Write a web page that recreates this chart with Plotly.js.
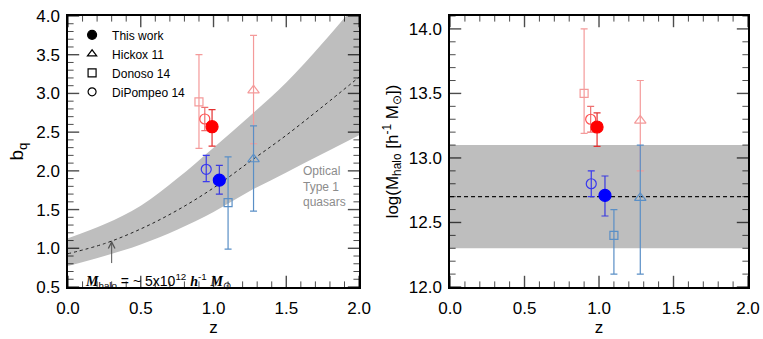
<!DOCTYPE html>
<html>
<head>
<meta charset="utf-8">
<script src="https://cdn.plot.ly/plotly-3.0.1.min.js"></script>
<style>
  body { margin: 0; background: #fff; }
  #graph { width: 763px; height: 339px; }
</style>
</head>
<body>
<div id="graph"></div>
<script>
//----------------- datos -----------------
// panel izquierdo: bias b_q vs z
const bandaZ     = [0, 0.25, 0.5, 0.75, 1.0, 1.25, 1.5, 1.75, 2.0];
const bandaMedia = [0.93, 1.06, 1.25, 1.49, 1.78, 2.12, 2.46, 2.83, 3.21];
const bandaAlta  = [1.13, 1.31, 1.55, 1.90, 2.30, 2.71, 3.14, 3.65, 4.20];
const bandaBaja  = [0.77, 0.90, 1.05, 1.24, 1.47, 1.74, 1.98, 2.22, 2.46];

// cada estudio: [rojo, azul]
const estudioZ = {
  thisWork: [0.99, 1.04],
  hickox:   [1.275, 1.275],
  donoso:   [0.90, 1.10],
  dipompeo: [0.94, 0.95]
};
const estudioZ2 = {
  thisWork: [0.987, 1.04],
  hickox:   [1.277, 1.277],
  donoso:   [0.90, 1.10],
  dipompeo: [0.944, 0.948]
};

const biasThisWork = [2.57, 1.88], biasThisWorkUp = [0.22, 0.19], biasThisWorkDn = [0.25, 0.18];
const biasHickox   = [3.04, 2.15], biasHickoxUp   = [0.71, 0.43], biasHickoxDn   = [0.69, 0.67];
const biasDonoso   = [2.89, 1.59], biasDonosoUp   = [0.61, 0.59], biasDonosoDn   = [0.60, 0.60];
const biasDiPompeo = [2.67, 2.02], biasDiPompeoUp = [0.15, 0.18], biasDiPompeoDn = [0.15, 0.16];

// panel derecho: log(M_halo) vs z
const masaThisWork = [13.24, 12.71], masaThisWorkUp = [0.11, 0.15], masaThisWorkDn = [0.15, 0.16];
const masaHickox   = [13.29, 12.69], masaHickoxUp   = [0.31, 0.41], masaHickoxDn   = [0.39, 0.59];
const masaDonoso   = [13.50, 12.40], masaDonosoUp   = [0.50, 0.20], masaDonosoDn   = [0.31, 0.30];
const masaDiPompeo = [13.30, 12.80], masaDiPompeoUp = [0.10, 0.10], masaDiPompeoDn = [0.10, 0.10];

const rangoZ = [0, 2];
const rangoBias = [0.5, 4.0];
const rangoMasa = [12.0, 14.1];
const masaBanda = [12.3, 13.1];
const masaMedia = 12.7;

const etiquetasLeyenda = ['This work', 'Hickox 11', 'Donoso 14', 'DiPompeo 14'];

//----------------- colores y simbolos -----------------
const estilo = {
  thisWork: {simbolo: 'circle',        tam: 12, color: ['#ff0000', '#0000ff'], barra: ['#e43030', '#3a3ae0']},
  hickox:   {simbolo: 'triangle-up-open', tam: 10, color: ['#f49a9a', '#5a8fc6'], barra: ['#f49a9a', '#5a8fc6']},
  donoso:   {simbolo: 'square-open',   tam: 8,  color: ['#f49a9a', '#5a8fc6'], barra: ['#f49a9a', '#5a8fc6']},
  dipompeo: {simbolo: 'circle-open',   tam: 10, color: ['#ff5050', '#3a3aee'], barra: ['#ee7070', '#3a3aee']}
};

function puntos(clave, zs, ys, up, dn, i, ejeX, ejeY){
  return {
    type: 'scatter',
    mode: 'markers',
    x: [zs[i]],
    y: [ys[i]],
    xaxis: ejeX,
    yaxis: ejeY,
    showlegend: false,
    marker: {symbol: estilo[clave].simbolo, size: estilo[clave].tam, color: estilo[clave].color[i],
             line: {width: 1.2, color: estilo[clave].color[i]}},
    error_y: {type: 'data', symmetric: false, array: [up[i]], arrayminus: [dn[i]],
              color: estilo[clave].barra[i], thickness: 1.2, width: 3.5}
  };
}

let data = [];

// banda gris izquierda
data.push({x: bandaZ, y: bandaBaja, mode: 'lines', line: {width: 0, color: '#bebebe', shape: 'spline'},
           xaxis: 'x', yaxis: 'y', showlegend: false, hoverinfo: 'skip'});
data.push({x: bandaZ, y: bandaAlta, mode: 'lines', line: {width: 0, color: '#bebebe', shape: 'spline'}, fill: 'tonexty',
           fillcolor: '#bebebe', xaxis: 'x', yaxis: 'y', showlegend: false, hoverinfo: 'skip'});
data.push({x: bandaZ, y: bandaMedia, mode: 'lines', line: {width: 1, color: '#222', dash: '3px,3px', shape: 'spline'},
           xaxis: 'x', yaxis: 'y', showlegend: false});

// banda gris derecha
data.push({x: rangoZ, y: [masaBanda[0], masaBanda[0]], mode: 'lines', line: {width: 0, color: '#bebebe'},
           xaxis: 'x2', yaxis: 'y2', showlegend: false, hoverinfo: 'skip'});
data.push({x: rangoZ, y: [masaBanda[1], masaBanda[1]], mode: 'lines', line: {width: 0, color: '#bebebe'}, fill: 'tonexty',
           fillcolor: '#bebebe', xaxis: 'x2', yaxis: 'y2', showlegend: false, hoverinfo: 'skip'});
data.push({x: rangoZ, y: [masaMedia, masaMedia], mode: 'lines', line: {width: 1.2, color: '#111', dash: '4px,3px'},
           xaxis: 'x2', yaxis: 'y2', showlegend: false});

const orden = ['donoso', 'hickox', 'dipompeo', 'thisWork'];
const bias = {
  thisWork: [biasThisWork, biasThisWorkUp, biasThisWorkDn],
  hickox:   [biasHickox, biasHickoxUp, biasHickoxDn],
  donoso:   [biasDonoso, biasDonosoUp, biasDonosoDn],
  dipompeo: [biasDiPompeo, biasDiPompeoUp, biasDiPompeoDn]
};
const masa = {
  thisWork: [masaThisWork, masaThisWorkUp, masaThisWorkDn],
  hickox:   [masaHickox, masaHickoxUp, masaHickoxDn],
  donoso:   [masaDonoso, masaDonosoUp, masaDonosoDn],
  dipompeo: [masaDiPompeo, masaDiPompeoUp, masaDiPompeoDn]
};

orden.forEach(clave => {
  for (let i = 0; i < 2; i++) {
    data.push(puntos(clave, estudioZ[clave], bias[clave][0], bias[clave][1], bias[clave][2], i, 'x', 'y'));
    data.push(puntos(clave, estudioZ2[clave], masa[clave][0], masa[clave][1], masa[clave][2], i, 'x2', 'y2'));
  }
});

// entradas de la leyenda (simbolos negros)
['thisWork', 'hickox', 'donoso', 'dipompeo'].forEach((clave, k) => {
  data.push({
    type: 'scatter', mode: 'markers', x: [null], y: [null], xaxis: 'x', yaxis: 'y',
    name: etiquetasLeyenda[k],
    marker: {symbol: estilo[clave].simbolo, size: clave === 'thisWork' ? 9 : 8, color: '#000',
             line: {width: 1.2, color: '#000'}}
  });
});

//----------------- marcas de los ejes (hacia dentro, en los 4 lados) -----------------
// se dibujan como marcadores de linea sobre el borde; la mitad exterior queda recortada
function marcasEjes(ejeX, ejeY, rX, rY){
  let tx = [], ty = [], tTam = [], tAncho = [];
  for (let k = Math.round(rX[0] * 10); k <= Math.round(rX[1] * 10); k++) {
    let mayor = k % 5 === 0;
    [rY[0], rY[1]].forEach(borde => {
      tx.push(k / 10); ty.push(borde);
      tTam.push(mayor ? 16 : 8); tAncho.push(mayor ? 1.4 : 1);
    });
  }
  let lx = [], ly = [], lTam = [], lAncho = [];
  for (let k = Math.round(rY[0] * 10); k <= Math.round(rY[1] * 10); k++) {
    let mayor = k % 5 === 0;
    [rX[0], rX[1]].forEach(borde => {
      lx.push(borde); ly.push(k / 10);
      lTam.push(mayor ? 16 : 8); lAncho.push(mayor ? 1.4 : 1);
    });
  }
  data.push({type: 'scatter', mode: 'markers', x: tx, y: ty, xaxis: ejeX, yaxis: ejeY, showlegend: false,
             hoverinfo: 'skip', cliponaxis: true,
             marker: {symbol: 'line-ns-open', size: tTam, color: '#000', line: {width: tAncho, color: '#000'}}});
  data.push({type: 'scatter', mode: 'markers', x: lx, y: ly, xaxis: ejeX, yaxis: ejeY, showlegend: false,
             hoverinfo: 'skip', cliponaxis: true,
             marker: {symbol: 'line-ew-open', size: lTam, color: '#000', line: {width: lAncho, color: '#000'}}});
}
marcasEjes('x', 'y', rangoZ, rangoBias);
marcasEjes('x2', 'y2', rangoZ, rangoMasa);

const fuente = 'Liberation Sans, Arial, Helvetica, sans-serif';

function ejeBase(extra){
  return Object.assign({
    showline: true, linecolor: '#000', linewidth: 1.5, mirror: true,
    ticks: '', showgrid: false, zeroline: false, dtick: 0.5, tick0: 0, tickformat: '.1f',
    tickfont: {family: fuente, size: 17, color: '#000'}
  }, extra);
}

let layout = {
  width: 763,
  height: 339,
  margin: {l: 68, r: 15, t: 16, b: 52},
  paper_bgcolor: '#fff',
  plot_bgcolor: '#fff',
  font: {family: fuente, color: '#000'},
  showlegend: true,
  legend: {x: 0.006, y: 0.984, xanchor: 'left', yanchor: 'top', bgcolor: 'rgba(0,0,0,0)',
           font: {family: fuente, size: 12}, itemwidth: 30, tracegroupgap: 0, traceorder: 'normal'},
  xaxis: ejeBase({domain: [0, 0.428], range: rangoZ, anchor: 'y', ticklabelstandoff: 5,
                  title: {text: 'z', font: {size: 17}, standoff: 0}}),
  yaxis: ejeBase({domain: [0, 1], range: rangoBias, anchor: 'x', ticklabelstandoff: 3,
                  title: {text: 'b<sub>q</sub>', font: {size: 19}, standoff: 8}}),
  xaxis2: ejeBase({domain: [0.5618, 1], range: rangoZ, anchor: 'y2', ticklabelstandoff: 5,
                   title: {text: 'z', font: {size: 17}, standoff: 0}}),
  yaxis2: ejeBase({domain: [0, 1], range: rangoMasa, anchor: 'x2', ticklabelstandoff: 3,
                   title: {text: 'log(M<sub>halo</sub> [h<sup>-1</sup> M<sub>⊙</sub>])', font: {size: 17}, standoff: 6}}),
  annotations: [
    {xref: 'x', yref: 'y', x: 0.3, y: 1.1, ax: 0.3, ay: 0.79, axref: 'x', ayref: 'y',
     showarrow: true, arrowhead: 5, arrowsize: 1.3, arrowwidth: 1, arrowcolor: '#555', text: ''},
    {xref: 'x', yref: 'y', x: 0.1, y: 0.58, xanchor: 'left', yanchor: 'middle', showarrow: false,
     font: {family: fuente, size: 14, color: '#000'},
     text: '<span style="font-family:Liberation Serif,serif"><b><i>M</i></b></span><sub>halo</sub> = ~ 5x10<sup>12</sup> ' +
           '<span style="font-family:Liberation Serif,serif"><b><i>h</i></b></span><sup>-1</sup> ' +
           '<span style="font-family:Liberation Serif,serif"><b><i>M</i></b></span><sub>⊙</sub>'},
    {xref: 'x', yref: 'y', x: 1.6, y: 1.80, xanchor: 'left', yanchor: 'middle', align: 'left', showarrow: false,
     font: {family: fuente, size: 12, color: '#8c8c8c'}, text: 'Optical<br>Type 1<br>quasars'}
  ]
};

Plotly.newPlot('graph', data, layout, {displayModeBar: false});
</script>
</body>
</html>
